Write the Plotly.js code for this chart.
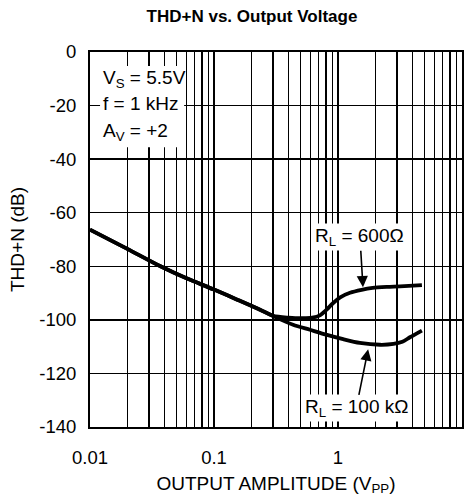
<!DOCTYPE html>
<html>
<head>
<meta charset="utf-8">
<script src="https://cdn.plot.ly/plotly-3.0.1.min.js"></script>
<style>
  html, body { margin: 0; padding: 0; background: #fff; }
  #chart { width: 471px; height: 502px; }
</style>
</head>
<body>
<div id="chart"></div>
<script>
// ---- data ----
const amp600 = [0.01, 0.02, 0.037, 0.06, 0.1, 0.16, 0.235, 0.3, 0.4, 0.52, 0.62, 0.72, 0.81, 0.91, 1.05, 1.25, 1.55, 1.9, 2.5, 3.16, 4.75];
const thd600 = [-66.3, -73.5, -80, -84.5, -88.7, -92.8, -96.2, -98.5, -99.2, -99.4, -99.2, -98.2, -96.2, -93.8, -91.5, -89.9, -88.8, -88.1, -87.7, -87.5, -87.0];

const amp100k = [0.01, 0.02, 0.037, 0.06, 0.1, 0.16, 0.235, 0.3, 0.434, 0.594, 0.815, 1.1, 1.5, 2.18, 2.8, 3.3, 3.8, 4.75];
const thd100k = [-66.3, -73.5, -80, -84.5, -88.7, -92.8, -96.2, -98.6, -101.8, -103.7, -105.6, -107.2, -108.6, -109.3, -109.0, -108.2, -106.5, -104.0];

const xTickVals = [0.01, 0.1, 1, 10];
const xTickText = ['0.01', '0.1', '1', '10'];
const xMinorVals = [0.02,0.03,0.04,0.05,0.06,0.07,0.08,0.09,
                    0.2,0.3,0.4,0.5,0.6,0.7,0.8,0.9,
                    2,3,4,5,6,7,8,9];
const yTickVals = [0, -20, -40, -60, -80, -100, -120, -140];
const yTickText = ['0', '-20', '-40', '-60', '-80', '-100', '-120', '-140'];

const conditionLines = ['V<sub>S</sub> = 5.5V', 'f = 1 kHz', 'A<sub>V</sub> = +2'];
const seriesLabels = ['R<sub>L</sub> = 600Ω', 'R<sub>L</sub> = 100 kΩ'];

// ---- chart ----
const FONT = 'Liberation Sans, Arial, Helvetica, sans-serif';
const lineStyle = { color: '#000', width: 3.8, shape: 'spline', smoothing: 0.8 };
const traces = [
  { x: amp600, y: thd600, mode: 'lines', line: lineStyle, hoverinfo: 'skip' },
  { x: amp100k, y: thd100k, mode: 'lines', line: lineStyle, hoverinfo: 'skip' }
];

const condY = [0.929, 0.862, 0.787];
const annotations = conditionLines.map((t, i) => ({
  text: t, xref: 'paper', yref: 'paper', x: 0.03, y: condY[i],
  xanchor: 'left', yanchor: 'middle', showarrow: false,
  font: { family: FONT, size: 19, color: '#000' }
}));
annotations.push({
  text: seriesLabels[0], xref: 'x', yref: 'y', x: Math.log10(1.59), y: -87.8,
  showarrow: true, ax: -3, ay: -50, arrowhead: 2, arrowsize: 1.4, arrowwidth: 1.6,
  arrowcolor: '#000', bgcolor: '#fff', borderpad: 1, standoff: 0,
  font: { family: FONT, size: 19, color: '#000' }
});
annotations.push({
  text: seriesLabels[1], xref: 'x', yref: 'y', x: Math.log10(1.75), y: -111,
  showarrow: true, ax: -12, ay: 59, arrowhead: 2, arrowsize: 1.4, arrowwidth: 1.6,
  arrowcolor: '#000', bgcolor: '#fff', borderpad: 1, standoff: 0,
  font: { family: FONT, size: 19, color: '#000' }
});

const layout = {
  width: 471, height: 502,
  margin: { l: 90, r: 9, t: 52, b: 75 },
  paper_bgcolor: '#fff', plot_bgcolor: '#fff',
  showlegend: false,
  font: { family: FONT, size: 18, color: '#000' },
  title: {
    text: '<b>THD+N vs. Output Voltage</b>',
    font: { family: FONT, size: 17, color: '#000' },
    xref: 'container', x: 0.535, xanchor: 'center',
    yref: 'container', y: 0.968, yanchor: 'middle'
  },
  xaxis: {
    type: 'log', range: [-2, 1],
    tickmode: 'array', tickvals: xTickVals, ticktext: xTickText,
    showgrid: true, gridcolor: '#000', gridwidth: 1.4,
    minor: { tickmode: 'array', tickvals: xMinorVals, showgrid: true,
             gridcolor: '#000', gridwidth: 1.4, ticks: '' },
    showline: true, linecolor: '#000', linewidth: 2, mirror: true,
    ticks: 'outside', ticklen: 13, tickcolor: 'rgba(0,0,0,0)',
    zeroline: false,
    tickfont: { family: FONT, size: 18.5, color: '#000' },
    title: { text: 'OUTPUT AMPLITUDE (V<sub>PP</sub>)', standoff: 9,
             font: { family: FONT, size: 19, color: '#000' } },
    automargin: false, fixedrange: true
  },
  yaxis: {
    range: [-140, 0],
    tickmode: 'array', tickvals: yTickVals, ticktext: yTickText,
    showgrid: true, gridcolor: '#000', gridwidth: 1.4,
    showline: true, linecolor: '#000', linewidth: 2, mirror: true,
    ticks: 'outside', ticklen: 8, tickcolor: 'rgba(0,0,0,0)',
    zeroline: false,
    tickfont: { family: FONT, size: 18.5, color: '#000' },
    title: { text: 'THD+N (dB)', standoff: 10,
             font: { family: FONT, size: 19, color: '#000' } },
    automargin: false, fixedrange: true
  },
  shapes: [{
    type: 'rect', xref: 'paper', yref: 'paper', layer: 'above',
    x0: 0.027, x1: 0.253, y0: 0.746, y1: 0.9626,
    fillcolor: '#fff', line: { width: 0 }
  }],
  annotations: annotations
};

Plotly.newPlot('chart', traces, layout, { staticPlot: true, displayModeBar: false });
</script>
</body>
</html>
